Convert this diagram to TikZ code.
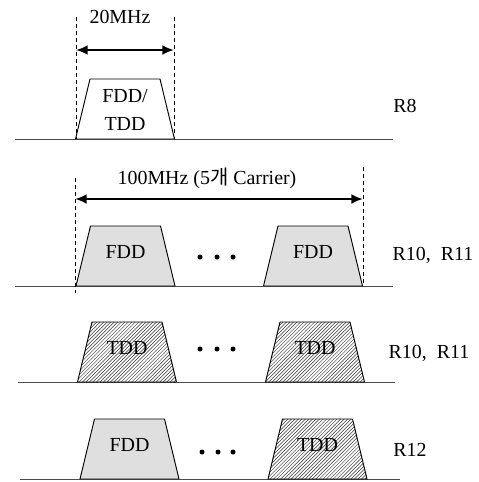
\documentclass[tikz,border=0pt]{standalone}
\usepackage{fontspec}
\setmainfont{Liberation Serif}
\newfontfamily\kr{Noto Sans CJK KR}
\usepackage{tikz}
\usetikzlibrary{arrows.meta, patterns, positioning}

\tikzset{
  carrier/.style={draw, line width=0.8pt},
  fdd/.style={carrier, fill=gray!25},
  tdd/.style={carrier, pattern=north east lines, pattern color=black!80},
  band/.style={line width=0.8pt, black!70},
  guide/.style={dashed, line width=0.6pt},
  span/.style={{Latex[length=3.5mm,width=3mm]}-{Latex[length=3.5mm,width=3mm]}, line width=2pt},
  dotnode/.style={circle, fill, inner sep=0pt, minimum size=0.15cm},
  rel/.style={anchor=center}
}

% \carrier{name}{x}{baseline y}{style}{label}
\newcommand{\carrier}[5]{%
  \draw[#4] (#2-49.5,#3) -- (#2-35,#3-60) -- (#2+35,#3-60) -- (#2+49.5,#3) -- cycle;
  \node[align=center] (#1) at (#2,#3-34) {#5};
}

\begin{document}
\begin{tikzpicture}[x=0.03cm, y=-0.03cm, font=\fontsize{17}{20}\selectfont]
    \useasboundingbox (0,0) rectangle (478,482);

    % R8 : one 20MHz carrier
    \coordinate (b1w) at (15,139);
    \coordinate (b1e) at (393,139);
    \draw[band] (b1w) -- (b1e);
    \draw[carrier, fill=white] (75.5,139) -- (90,79) -- (160,79) -- (174.5,139) -- cycle;
    \node[align=center, font=\fontsize{17}{24}\selectfont] (c1) at (125,110) {FDD/\\TDD};
    \coordinate (g1lt) at (76,17);
    \coordinate (g1lb) at (76,139);
    \coordinate (g1rt) at (174,17);
    \coordinate (g1rb) at (174,139);
    \draw[guide] (g1lt) -- (g1lb);
    \draw[guide] (g1rt) -- (g1rb);
    \coordinate (a1l) at (76,50);
    \coordinate (a1r) at (174,50);
    \draw[span] (a1l) -- (a1r);
    \node (w1) at (120,17) {20MHz};
    \node[rel] (r8) at (405,106) {R8};

    % R10, R11 : FDD carriers
    \coordinate (b2w) at (15,286);
    \coordinate (b2e) at (393,286);
    \draw[band] (b2w) -- (b2e);
    \carrier{c2a}{125.5}{286}{fdd}{FDD}
    \carrier{c2b}{313}{286}{fdd}{FDD}
    \coordinate (g2lt) at (75,178);
    \coordinate (g2lb) at (75,293);
    \coordinate (g2rt) at (363,167);
    \coordinate (g2rb) at (363,286);
    \draw[guide] (g2lt) -- (g2lb);
    \draw[guide] (g2rt) -- (g2rb);
    \coordinate (a2l) at (75,199);
    \coordinate (a2r) at (363,199);
    \draw[span] (a2l) -- (a2r);
    \node (w2) at (207,178) {100MHz (5{\kr 개} Carrier)};
    \foreach \i/\x in {1/200,2/217,3/233}
      \node[dotnode] (d2\i) at (\x,257) {};
    \node[rel] (r1011a) at (433,255) {R10,\ \ R11};

    % R10, R11 : TDD carriers
    \coordinate (b3w) at (18,382);
    \coordinate (b3e) at (395,382);
    \draw[band] (b3w) -- (b3e);
    \carrier{c3a}{127}{382}{tdd}{TDD}
    \carrier{c3b}{315}{382}{tdd}{TDD}
    \foreach \i/\x in {1/200,2/217,3/233}
      \node[dotnode] (d3\i) at (\x,349) {};
    \node[rel] (r1011b) at (429,353) {R10,\ \ R11};

    % R12 : FDD + TDD
    \coordinate (b4w) at (20,479);
    \coordinate (b4e) at (400,479);
    \draw[band] (b4w) -- (b4e);
    \carrier{c4a}{129.5}{479}{fdd}{FDD}
    \carrier{c4b}{317.5}{479}{tdd}{TDD}
    \foreach \i/\x in {1/202,2/218,3/233}
      \node[dotnode] (d4\i) at (\x,452) {};
    \node[rel] (r12) at (410,450) {R12};
  \end{tikzpicture}
\end{document}
